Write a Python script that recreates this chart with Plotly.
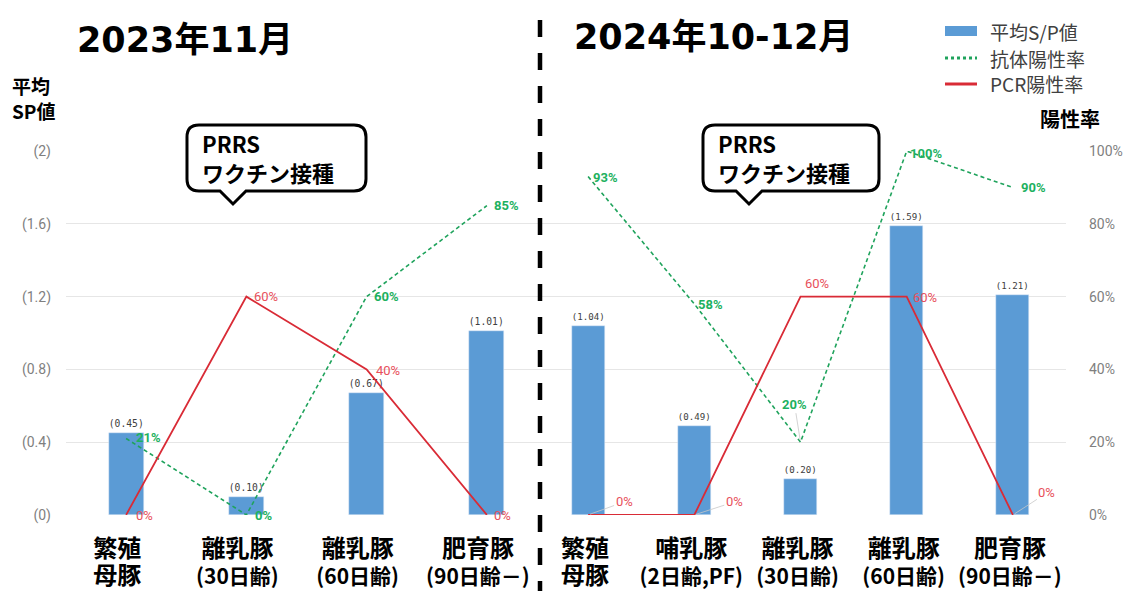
import plotly.graph_objects as go

W, H = 1126, 591

# ---------------- data ----------------
left_keys = ["繁殖母豚", "離乳豚30", "離乳豚60", "肥育豚90"]
left_labels = [("繁殖", "母豚"), ("離乳豚", "(30日齢)"), ("離乳豚", "(60日齢)"), ("肥育豚", "(90日齢－)")]
left_sp = [0.45, 0.10, 0.67, 1.01]
left_ab = [21, 0, 60, 85]
left_pcr = [0, 60, 40, 0]

right_keys = ["繁殖母豚", "哺乳豚2", "離乳豚30", "離乳豚60", "肥育豚90"]
right_labels = [("繁殖", "母豚"), ("哺乳豚", "(2日齢,PF)"), ("離乳豚", "(30日齢)"), ("離乳豚", "(60日齢)"), ("肥育豚", "(90日齢－)")]
right_sp = [1.04, 0.49, 0.20, 1.59, 1.21]
right_ab = [93, 58, 20, 100, 90]
right_pcr = [0, 0, 60, 60, 0]

sp_ticks = [0, 0.4, 0.8, 1.2, 1.6, 2]
sp_ticktext = ["(0)", "(0.4)", "(0.8)", "(1.2)", "(1.6)", "(2)"]
pct_ticks = [0, 20, 40, 60, 80, 100]
pct_ticktext = ["0%", "20%", "40%", "60%", "80%", "100%"]

titles = ["2023年11月", "2024年10-12月"]
legend_names = ["平均S/P値", "抗体陽性率", "PCR陽性率"]
callout_text = "PRRS<br>ワクチン接種"

# ---------------- styles ----------------
BLUE = "#5B9BD5"
GREEN = "#1FA35C"
GREEN_TXT = "#1DB15F"
RED = "#D92B36"
RED_TXT = "#E8505B"
GRID = "#E6E6E6"
CJK = "Noto Sans CJK JP"


def px(x):
    return x / W


def py(y):
    return 1 - y / H


def tick_html(lab):
    a, b = lab
    if a == "繁殖":
        return f"<b><span style='font-size:24px'>{a}</span></b><br><b><span style='font-size:24px'>{b}</span></b>"
    return f"<b><span style='font-size:24px'>{a}</span></b><br><b>{b}</b>"


fig = go.Figure()

# bars
fig.add_trace(go.Bar(x=left_keys, y=left_sp, xaxis="x", yaxis="y", marker_color=BLUE,
                     width=0.29, text=[f"({v:.2f})" for v in left_sp], textposition="outside",
                     textfont=dict(size=11, color="#404040", family="DejaVu Sans Mono"),
                     cliponaxis=False, showlegend=False))
fig.add_trace(go.Bar(x=right_keys, y=right_sp, xaxis="x2", yaxis="y", marker_color=BLUE,
                     width=0.31, text=[f"({v:.2f})" for v in right_sp], textposition="outside",
                     textfont=dict(size=11, color="#404040", family="DejaVu Sans Mono"),
                     cliponaxis=False, showlegend=False))

# lines
fig.add_trace(go.Scatter(x=left_keys, y=left_ab, xaxis="x", yaxis="y3", mode="lines",
                         line=dict(color=GREEN, width=1.6, dash="4px,3px"), cliponaxis=False, showlegend=False))
fig.add_trace(go.Scatter(x=left_keys, y=left_pcr, xaxis="x", yaxis="y3", mode="lines",
                         line=dict(color=RED, width=1.8), cliponaxis=False, showlegend=False))
fig.add_trace(go.Scatter(x=right_keys, y=right_ab, xaxis="x2", yaxis="y2", mode="lines",
                         line=dict(color=GREEN, width=1.6, dash="4px,3px"), cliponaxis=False, showlegend=False))
fig.add_trace(go.Scatter(x=right_keys, y=right_pcr, xaxis="x2", yaxis="y2", mode="lines",
                         line=dict(color=RED, width=1.8), cliponaxis=False, showlegend=False))

annotations = []

# percent labels: (xshift, yshift) offsets or leader arrows (ax, ay)
left_ab_off = [(8, 1), (7, -1), (5, 0), (5, 0)]
left_pcr_off = [(8, -1), (6, 0), (7, -1), (5, -1)]
for k, v, (dx, dy) in zip(left_keys, left_ab, left_ab_off):
    annotations.append(dict(x=k, y=v, xref="x", yref="y3", text=f"<b>{v}%</b>", showarrow=False,
                            xanchor="left", xshift=dx, yshift=dy,
                            font=dict(size=13, color=GREEN_TXT, family="Roboto")))
for k, v, (dx, dy) in zip(left_keys, left_pcr, left_pcr_off):
    annotations.append(dict(x=k, y=v, xref="x", yref="y3", text=f"{v}%", showarrow=False,
                            xanchor="left", xshift=dx, yshift=dy,
                            font=dict(size=13, color=RED_TXT, family="Roboto")))

right_ab_off = [("s", 3, -1), ("s", 2, -1), ("a", -6, -38), ("s", 1, -2), ("s", 6, 0)]
right_pcr_off = [("a", 36, -13), ("a", 40, -13), ("c", 16, 13), ("s", 4, -1), ("a", 34, -22)]


def pct_ann(k, v, spec, color, bold):
    kind, a, b = spec
    txt = f"<b>{v}%</b>" if bold else f"{v}%"
    base = dict(x=k, y=v, xref="x2", yref="y2", text=txt,
                font=dict(size=13, color=color, family="Roboto"))
    if kind == "a":
        base.update(showarrow=True, arrowhead=0, arrowwidth=0.8, arrowcolor="#C8C8C8",
                    ax=a, ay=b, standoff=2)
    elif kind == "c":
        base.update(showarrow=False, xanchor="center", xshift=a, yshift=b)
    else:
        base.update(showarrow=False, xanchor="left", xshift=a, yshift=b)
    return base


for k, v, s in zip(right_keys, right_ab, right_ab_off):
    annotations.append(pct_ann(k, v, s, GREEN_TXT, True))
for k, v, s in zip(right_keys, right_pcr, right_pcr_off):
    annotations.append(pct_ann(k, v, s, RED_TXT, False))

# titles
annotations.append(dict(x=px(185), y=py(40), xref="paper", yref="paper", text=f"<b>{titles[0]}</b>",
                        showarrow=False, xanchor="center", yanchor="middle",
                        font=dict(size=35, color="black", family="DejaVu Sans, " + CJK)))
annotations.append(dict(x=px(713), y=py(37), xref="paper", yref="paper", text=f"<b>{titles[1]}</b>",
                        showarrow=False, xanchor="center", yanchor="middle",
                        font=dict(size=35, color="black", family="DejaVu Sans, " + CJK)))

# axis titles
annotations.append(dict(x=px(34), y=py(98), xref="paper", yref="paper", text="<b>平均<br>SP値</b>",
                        showarrow=False, xanchor="center", yanchor="middle", align="left",
                        font=dict(size=19, color="black", family=CJK)))
annotations.append(dict(x=px(1070), y=py(118), xref="paper", yref="paper", text="<b>陽性率</b>",
                        showarrow=False, xanchor="center", yanchor="middle",
                        font=dict(size=20, color="black", family=CJK)))

shapes = []

# legend (manual)
leg_y = [31, 58, 84]
shapes.append(dict(type="rect", xref="paper", yref="paper", x0=px(945), x1=px(977), y0=py(26), y1=py(36),
                   fillcolor=BLUE, line=dict(width=0)))
shapes.append(dict(type="line", xref="paper", yref="paper", x0=px(945), x1=px(977), y0=py(58), y1=py(58),
                   line=dict(color=GREEN, width=3, dash="3px,3px")))
shapes.append(dict(type="line", xref="paper", yref="paper", x0=px(945), x1=px(977), y0=py(84), y1=py(84),
                   line=dict(color=RED, width=3)))
for name, yy in zip(legend_names, leg_y):
    annotations.append(dict(x=px(988), y=py(yy), xref="paper", yref="paper", text=name, showarrow=False,
                            xanchor="left", yanchor="middle", font=dict(size=19, color="#404040", family=CJK)))

# divider
shapes.append(dict(type="line", xref="paper", yref="paper", x0=px(540), x1=px(540), y0=py(20), y1=py(600),
                   line=dict(color="black", width=4.5, dash="17px,16px")))


# callouts
def callout(x0, x1, y0, y1, tip_x, tip_y, r=12, hw=13):
    P = lambda x, y: f"{px(x):.5f},{py(y):.5f}"
    return ("M " + P(x0 + r, y0) + " L " + P(x1 - r, y0) + " Q " + P(x1, y0) + " " + P(x1, y0 + r) +
            " L " + P(x1, y1 - r) + " Q " + P(x1, y1) + " " + P(x1 - r, y1) +
            " L " + P(tip_x + hw, y1) + " L " + P(tip_x, tip_y) + " L " + P(tip_x - hw, y1) +
            " L " + P(x0 + r, y1) + " Q " + P(x0, y1) + " " + P(x0, y1 - r) +
            " L " + P(x0, y0 + r) + " Q " + P(x0, y0) + " " + P(x0 + r, y0) + " Z")


for (bx0, bx1, tip) in [(187, 366, 233), (703, 879, 749)]:
    shapes.append(dict(type="path", xref="paper", yref="paper", path=callout(bx0, bx1, 125, 191, tip, 204),
                       fillcolor="white", line=dict(color="black", width=3), layer="above"))
    annotations.append(dict(x=px(bx0 + 13), y=py(157), xref="paper", yref="paper",
                            text=f"<b>{callout_text}</b>", showarrow=False, align="left",
                            xanchor="left", yanchor="middle",
                            font=dict(size=22, color="black", family=CJK)))

ydom = [1 - 515 / H, 1 - 151 / H]

fig.update_layout(
    width=W, height=H, autosize=False,
    margin=dict(l=0, r=0, t=0, b=0, autoexpand=False),
    paper_bgcolor="white", plot_bgcolor="white",
    showlegend=False, bargap=0,
    xaxis=dict(domain=[px(66), px(547)], type="category", categoryorder="array", categoryarray=left_keys,
               range=[-0.5, 3.5], anchor="y", showgrid=False, zeroline=False, showline=False, ticks="",
               tickvals=left_keys, ticktext=[tick_html(l) for l in left_labels], tickangle=0, automargin=False,
               tickfont=dict(size=21, color="black", family=CJK), ticklabelstandoff=20, ticklabelshift=-9),
    xaxis2=dict(domain=[px(535), px(1066)], type="category", categoryorder="array", categoryarray=right_keys,
                range=[-0.5, 4.5], anchor="y", showgrid=False, zeroline=False, showline=False, ticks="",
                tickvals=right_keys, ticktext=[tick_html(l) for l in right_labels], tickangle=0, automargin=False,
                tickfont=dict(size=21, color="black", family=CJK), ticklabelstandoff=20, ticklabelshift=-3),
    yaxis=dict(domain=ydom, range=[-0.0005, 2.0005], anchor="x", side="left", showgrid=True, gridcolor=GRID,
               gridwidth=1, zeroline=False, showline=False, ticks="", tickvals=sp_ticks, ticktext=sp_ticktext,
               automargin=False,
               tickfont=dict(size=14, color="#7F7F7F", family="Roboto"), ticklabelstandoff=14),
    yaxis2=dict(domain=ydom, range=[-0.025, 100.025], overlaying="y", anchor="x2", side="right", showgrid=False,
                zeroline=False, showline=False, ticks="", tickvals=pct_ticks, ticktext=pct_ticktext,
                automargin=False,
                tickfont=dict(size=14, color="#7F7F7F", family="Roboto"), ticklabelstandoff=22),
    yaxis3=dict(domain=ydom, range=[-0.025, 100.025], overlaying="y", anchor="x", visible=False, automargin=False),
    annotations=annotations,
    shapes=shapes,
)

fig.write_html("out.html")
